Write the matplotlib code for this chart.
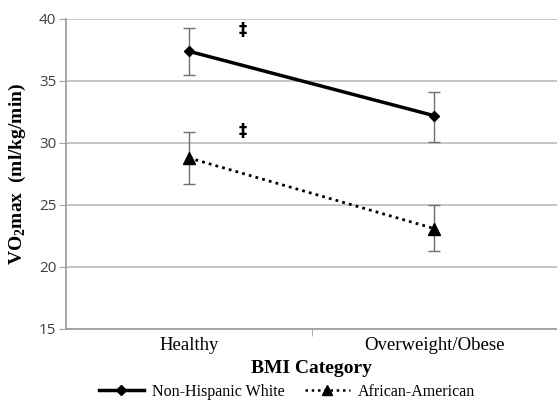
import matplotlib
matplotlib.use("Agg")
import matplotlib.pyplot as plt
from matplotlib.lines import Line2D

categories = ["Healthy", "Overweight/Obese"]
nhw_vals = [37.4, 32.2]
nhw_lo = [35.5, 30.1]
nhw_hi = [39.3, 34.1]
aa_vals = [28.8, 23.1]
aa_lo = [26.7, 21.3]
aa_hi = [30.9, 25.0]
yticks = [15, 20, 25, 30, 35, 40]

serif = "Liberation Serif"
plt.rcParams['mathtext.fontset'] = 'custom'
plt.rcParams['mathtext.rm'] = serif
plt.rcParams['mathtext.bf'] = serif + ":bold"

fig = plt.figure(figsize=(5.57, 4.03), dpi=100)
ax = fig.add_axes([66/557, 1-329/403, 1-66/557, (329-19)/403])

x = list(range(len(categories)))

ax.errorbar(x, nhw_vals, yerr=[[v-l for v, l in zip(nhw_vals, nhw_lo)], [h-v for v, h in zip(nhw_vals, nhw_hi)]],
            fmt='none', ecolor='#6f6f6f', elinewidth=1.0, capsize=4, capthick=1.0, zorder=2)
ax.errorbar(x, aa_vals, yerr=[[v-l for v, l in zip(aa_vals, aa_lo)], [h-v for v, h in zip(aa_vals, aa_hi)]],
            fmt='none', ecolor='#6f6f6f', elinewidth=1.0, capsize=4, capthick=1.0, zorder=2)
ax.plot(x, nhw_vals, color='black', lw=2.5, marker='D', markersize=5, zorder=3)
ax.plot(x, aa_vals, color='black', lw=2.0, ls=(0, (1, 1.5)), marker='^', markersize=8, zorder=3)

ax.text(0.22, 39.1, "‡", fontsize=12, ha='center', va='center', family="DejaVu Sans", fontweight='bold')
ax.text(0.22, 31.0, "‡", fontsize=12, ha='center', va='center', family="DejaVu Sans", fontweight='bold')

ax.set_xlim(-0.5, 1.5)
ax.set_ylim(15, 40)
ax.set_yticks(yticks)
ax.set_yticklabels([str(t) for t in yticks], fontsize=11, color='#404040', family="Open Sans")
ax.set_xticks(x)
ax.set_xticklabels(categories, fontsize=13.5, family=serif)
ax.set_xticks([0.5], minor=True)
ax.tick_params(axis='x', which='major', length=0, pad=6)
ax.tick_params(axis='x', which='minor', length=5, color='#a0a0a0', direction='out')
ax.tick_params(axis='y', length=5, color='#a0a0a0', pad=2)
ax.grid(axis='y', color='#c0c0c0', lw=1.3)
ax.set_axisbelow(True)
for s in ['top', 'right']:
    ax.spines[s].set_visible(False)
for s in ['left', 'bottom']:
    ax.spines[s].set_color('#a0a0a0')
    ax.spines[s].set_linewidth(1.3)

ax.set_xlabel("BMI Category", fontsize=14, fontweight='bold', family=serif, labelpad=4)
ax.set_ylabel(r"VO$_\mathbf{2}$max  (ml/kg/min)", fontsize=14, fontweight='bold', family=serif, labelpad=8)

handles = [Line2D([], [], color='black', lw=2.5, marker='D', markersize=5),
           Line2D([], [], color='black', lw=1.8, ls=(0, (1, 1.5)), marker='^', markersize=7)]
fig.legend(handles, ["Non-Hispanic White", "African-American"], loc='center', bbox_to_anchor=(0.515, 1-392/403),
           ncol=2, frameon=False, prop={'family': serif, 'size': 11.5}, handlelength=2.8, columnspacing=1.3,
           handletextpad=0.5)

fig.savefig("out.png", dpi=100)
